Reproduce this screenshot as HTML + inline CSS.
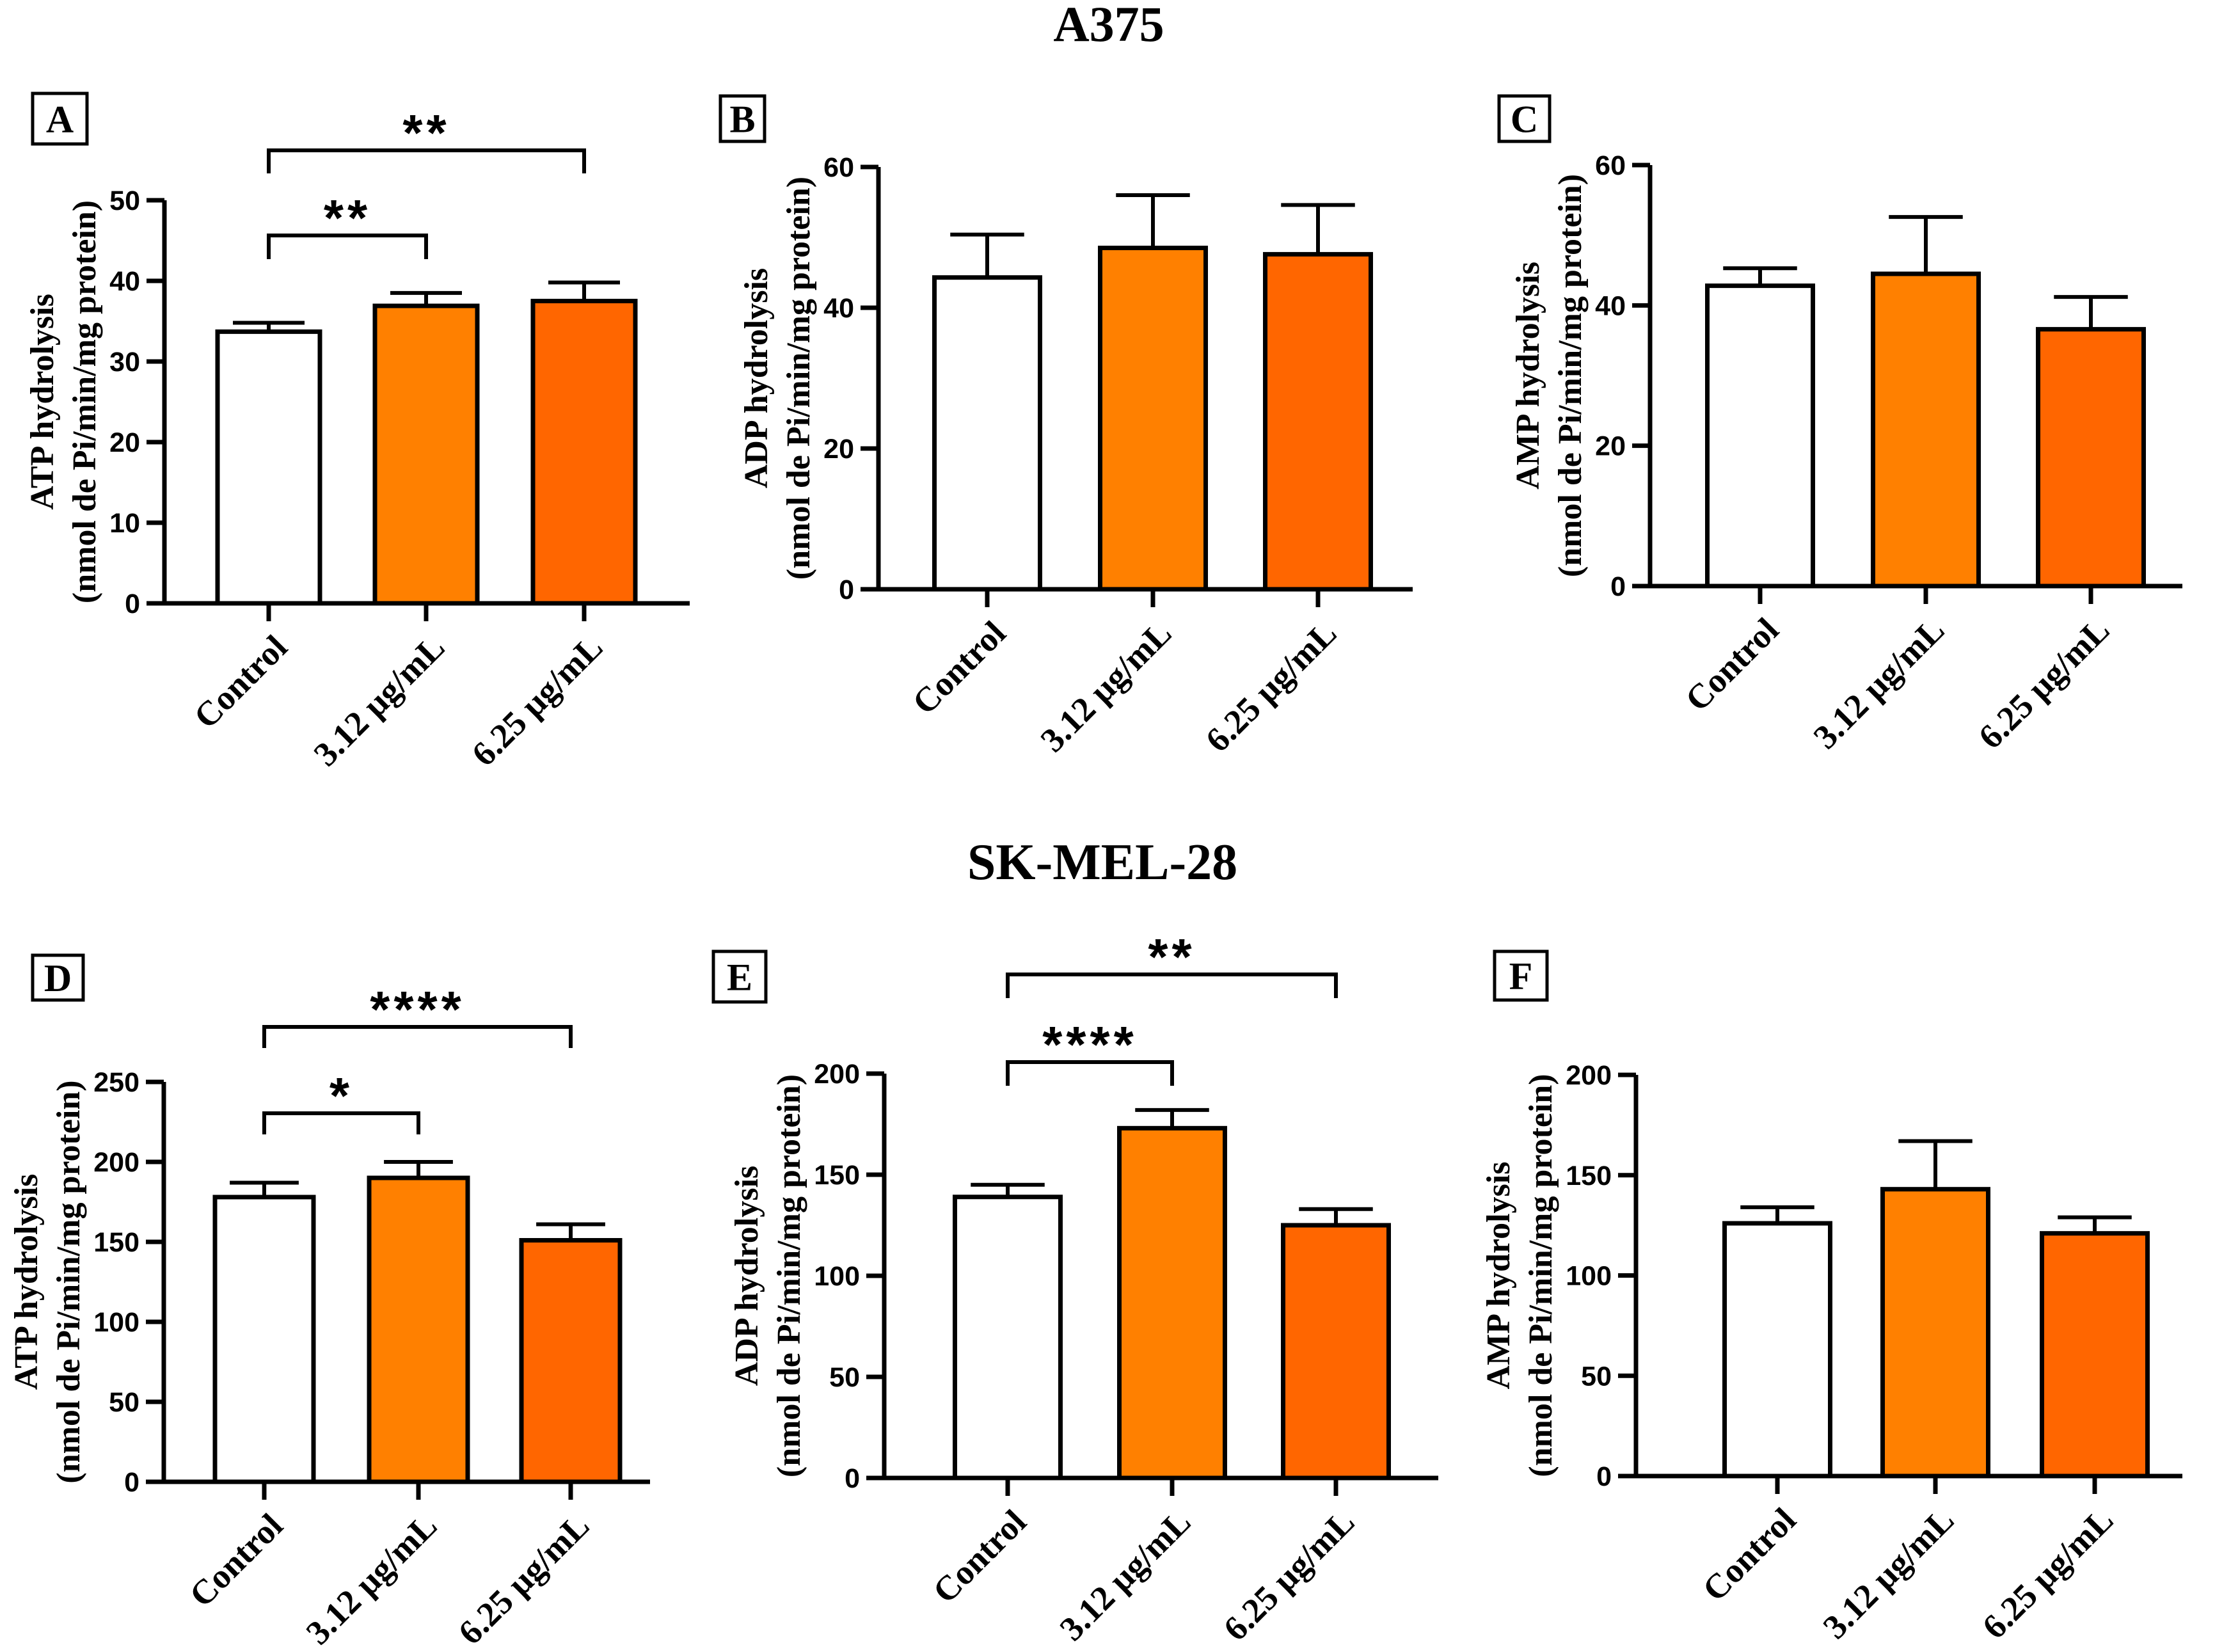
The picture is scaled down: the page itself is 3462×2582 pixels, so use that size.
<!DOCTYPE html>
<html><head><meta charset="utf-8"><style>
html,body{margin:0;padding:0;background:#fff;}
svg{display:block;}
</style></head><body>
<svg id="fig" width="3462" height="2582" viewBox="0 0 3462 2582" xmlns="http://www.w3.org/2000/svg">
<text x="1733" y="64" text-anchor="middle" font-family="Liberation Serif, serif" font-weight="bold" font-size="78">A375</text>
<text x="1723" y="1374" text-anchor="middle" font-family="Liberation Serif, serif" font-weight="bold" font-size="80">SK-MEL-28</text>
</svg>
<script>
const categories = ["Control", "3.12 µg/mL", "6.25 µg/mL"];
const valuesA = [33.7, 36.9, 37.5];
const errorsA = [34.8, 38.5, 39.8];
const valuesB = [44.3, 48.5, 47.6];
const errorsB = [50.4, 56.0, 54.6];
const valuesC = [42.8, 44.5, 36.6];
const errorsC = [45.3, 52.6, 41.2];
const valuesD = [178, 190, 151];
const errorsD = [187, 200, 161];
const valuesE = [139, 173, 125];
const errorsE = [145, 182, 133];
const valuesF = [126, 143, 121];
const errorsF = [134, 167, 129];
const ticksA = [0, 10, 20, 30, 40, 50];
const ticksBC = [0, 20, 40, 60];
const ticksD = [0, 50, 100, 150, 200, 250];
const ticksEF = [0, 50, 100, 150, 200];
const colors = ["#ffffff", "#ff8000", "#ff6600"];

const NS = "http://www.w3.org/2000/svg";
const svg = document.getElementById("fig");
function mk(tag, attrs, parent) {
  const e = document.createElementNS(NS, tag);
  for (const k in attrs) e.setAttribute(k, attrs[k]);
  (parent || svg).appendChild(e);
  return e;
}

const panels = [
  {id:"a", letter:"A", sub:"ATP", vals:valuesA, errs:errorsA, ticks:ticksA, ax:257, y0:943, yTop:313, xEnd:1078, cx:[420,666,913], bw:160, box:[51,146,85,79],
   sig:[{a:0,b:1,y:368,leg:405,t:"**"},{a:0,b:2,y:235,leg:271,t:"**"}]},
  {id:"b", letter:"B", sub:"ADP", vals:valuesB, errs:errorsB, ticks:ticksBC, ax:1373, y0:921, yTop:261, xEnd:2208, cx:[1543,1802,2060], bw:165, box:[1126,150,69,71], sig:[]},
  {id:"c", letter:"C", sub:"AMP", vals:valuesC, errs:errorsC, ticks:ticksBC, ax:2579, y0:916, yTop:258, xEnd:3411, cx:[2751,3010,3268], bw:165, box:[2343,150,79,71], sig:[]},
  {id:"d", letter:"D", sub:"ATP", vals:valuesD, errs:errorsD, ticks:ticksD, ax:256, y0:2316, yTop:1691, xEnd:1016, cx:[413,654,892], bw:154, box:[51,1493,79,70],
   sig:[{a:0,b:1,y:1740,leg:1773,t:"*"},{a:0,b:2,y:1605,leg:1638,t:"****"}]},
  {id:"e", letter:"E", sub:"ADP", vals:valuesE, errs:errorsE, ticks:ticksEF, ax:1382, y0:2310, yTop:1678, xEnd:2248, cx:[1575,1832,2088], bw:165, box:[1115,1487,82,79],
   sig:[{a:0,b:1,y:1660,leg:1697,t:"****"},{a:0,b:2,y:1523,leg:1560,t:"**"}]},
  {id:"f", letter:"F", sub:"AMP", vals:valuesF, errs:errorsF, ticks:ticksEF, ax:2557, y0:2307, yTop:1680, xEnd:3411, cx:[2778,3025,3274], bw:165, box:[2336,1487,82,76], sig:[]}
];

panels.forEach(p => {
  const g = mk("g", {});
  
  
  const maxT = p.ticks[p.ticks.length - 1];
  const yScale = v => p.y0 - (v / maxT) * (p.y0 - p.yTop);

  const bx = mk("rect", {x:p.box[0], y:p.box[1], width:p.box[2], height:p.box[3], fill:"#fff", stroke:"#000", "stroke-width":5}, g);
  
  
  const lt = mk("text", {x:p.box[0]+p.box[2]/2, y:p.box[1]+p.box[3]/2+21, "text-anchor":"middle", "font-family":"Liberation Serif, serif", "font-weight":"bold", "font-size":60}, g);
  lt.textContent = p.letter;
  
  

  p.vals.forEach((v, i) => {
    const x = p.cx[i] - p.bw/2, y = yScale(v);
    const r = mk("rect", {x:x, y:y, width:p.bw, height:p.y0 - y, fill:colors[i], stroke:"#000", "stroke-width":7}, g);
    
    
    const ey = yScale(p.errs[i]);
    const e1 = mk("path", {d:`M${p.cx[i]} ${y} V${ey} M${p.cx[i]-p.bw*0.35} ${ey} H${p.cx[i]+p.bw*0.35}`, stroke:"#000", "stroke-width":6, fill:"none"}, g);
    
    
  });

  const axes = mk("path", {d:`M${p.ax} ${p.yTop} V${p.y0} H${p.xEnd}`, stroke:"#000", "stroke-width":7, fill:"none"}, g);
  
  
  p.ticks.forEach(t => {
    const y = yScale(t);
    const tk = mk("line", {x1:p.ax-28, x2:p.ax, y1:y, y2:y, stroke:"#000", "stroke-width":7}, g);
    
    
    const tl = mk("text", {x:p.ax-38, y:y+15, "text-anchor":"end", "font-family":"Liberation Sans, sans-serif", "font-weight":"bold", "font-size":43}, g);
    tl.textContent = t;
    
    
  });
  p.cx.forEach((x, i) => {
    const tk = mk("line", {x1:x, x2:x, y1:p.y0, y2:p.y0+28, stroke:"#000", "stroke-width":7}, g);
    
    
    const tx = x + 32, ty = p.y0 + 72;
    const cl = mk("text", {x:tx, y:ty, "text-anchor":"end", transform:`rotate(-45 ${tx} ${ty})`, "font-family":"Liberation Serif, serif", "font-weight":"bold", "font-size":54}, g);
    cl.textContent = categories[i];
    
    
  });

  const digits = String(maxT).length;
  const labelLeft = p.ax - 38 - digits * 24;
  const cy = (p.y0 + p.yTop) / 2;
  const l2x = labelLeft - 22, l1x = l2x - 66;
  const yt1 = mk("text", {x:l1x, y:cy, "text-anchor":"middle", transform:`rotate(-90 ${l1x} ${cy})`, "font-family":"Liberation Serif, serif", "font-weight":"bold", "font-size":52}, g);
  yt1.textContent = p.sub + " hydrolysis";
  
  
  const yt2 = mk("text", {x:l2x, y:cy, "text-anchor":"middle", transform:`rotate(-90 ${l2x} ${cy})`, "font-family":"Liberation Serif, serif", "font-weight":"bold", "font-size":52}, g);
  yt2.textContent = "(nmol de Pi/min/mg protein)";
  
  

  p.sig.forEach(s => {
    const xa = p.cx[s.a], xb = p.cx[s.b];
    const br = mk("path", {d:`M${xa} ${s.leg} V${s.y} H${xb} V${s.leg}`, stroke:"#000", "stroke-width":6, fill:"none"}, g);
    
    
    const st = mk("text", {x:(xa+xb)/2, y:s.y, "text-anchor":"middle", "font-family":"Liberation Sans, sans-serif", "font-weight":"bold", "font-size":80, "letter-spacing":"6"}, g);
    st.textContent = s.t;
    
    
  });
});
</script>
</body></html>
